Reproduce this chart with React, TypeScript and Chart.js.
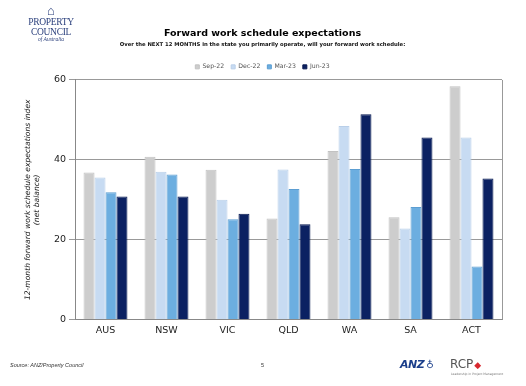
import React, { useEffect, useRef } from "react";
import { Chart, registerables } from "chart.js";
Chart.register(...registerables);

const categories = ["AUS", "NSW", "VIC", "QLD", "WA", "SA", "ACT"];
const seriesNames = ["Sep-22", "Dec-22", "Mar-23", "Jun-23"];
const sep22 = [36.8, 40.8, 37.5, 25.3, 42.2, 25.6, 58.4];
const dec22 = [35.6, 37.0, 30.0, 37.6, 48.5, 22.8, 45.6];
const mar23 = [31.9, 36.3, 25.1, 32.7, 37.7, 28.2, 13.3];
const jun23 = [30.8, 30.8, 26.5, 23.9, 51.4, 45.6, 35.3];
const yTicks = [0, 20, 40, 60];

const fills = ["#cdcdcd", "#c7dbf2", "#6caee0", "#0b2162"];
const borders = ["#c2c2c2", "#b9cfe9", "#5c9ed2", "#061850"];

export default function App() {
  const ref = useRef<HTMLCanvasElement | null>(null);
  useEffect(() => {
    document.body.style.margin = "0";
    const ctx = ref.current!;
    const all = [sep22, dec22, mar23, jun23];
    const chart = new Chart(ctx, {
      type: "bar",
      data: {
        labels: categories,
        datasets: all.map((d, i) => ({
          label: seriesNames[i],
          data: d,
          backgroundColor: fills[i],
          borderColor: borders[i],
          borderWidth: 1,
          categoryPercentage: 0.72,
          barPercentage: 1,
        })),
      },
      options: {
        animation: false,
        responsive: false,
        maintainAspectRatio: false,
        layout: { padding: { left: 23, right: 24, top: 0, bottom: 45 } },
        plugins: {
          title: {
            display: true,
            text: "Forward work schedule expectations",
            color: "#000",
            font: { family: "DejaVu Sans", size: 9.5, weight: "bold" },
            padding: { top: 28, bottom: 1 },
          },
          subtitle: {
            display: true,
            text: "Over the NEXT 12 MONTHS in the state you primarily operate, will your forward work schedule:",
            color: "#111",
            font: { family: "DejaVu Sans", size: 5.3, weight: "bold" },
            padding: { top: 1, bottom: 9 },
          },
          legend: {
            display: true,
            position: "top",
            labels: {
              boxWidth: 4,
              boxHeight: 4,
              padding: 7,
              color: "#555",
              font: { family: "DejaVu Sans", size: 6.2 },
            },
          },
          tooltip: { enabled: false },
        },
        scales: {
          x: {
            grid: { display: false, drawTicks: false },
            border: { display: true, color: "#888", width: 1 },
            ticks: {
              color: "#222",
              font: { family: "DejaVu Sans", size: 9.5 },
              padding: 5,
            },
          },
          y: {
            min: 0,
            max: 60,
            afterBuildTicks: (s: any) => {
              s.ticks = yTicks.map((v) => ({ value: v }));
            },
            afterFit: (s: any) => {
              s.width = 52;
            },
            grid: {
              color: "#999",
              lineWidth: 1,
              drawTicks: true,
              tickLength: 6,
            },
            border: { display: true, color: "#888", width: 1 },
            ticks: {
              color: "#222",
              font: { family: "DejaVu Sans", size: 9.5 },
              padding: 3,
            },
            title: {
              display: true,
              text: ["12-month forward work schedule expectations index", "(net balance)"],
              color: "#222",
              font: { family: "DejaVu Sans", size: 7.6, style: "italic" },
              padding: { top: 0, bottom: 4 },
            },
          },
        },
      },
      plugins: [
        {
          id: "rightBorder",
          afterDraw: (c: any) => {
            const a = c.chartArea;
            const g = c.ctx;
            g.save();
            g.strokeStyle = "#999";
            g.lineWidth = 1;
            g.beginPath();
            g.moveTo(Math.round(a.right) + 0.5, a.top);
            g.lineTo(Math.round(a.right) + 0.5, a.bottom);
            g.stroke();
            g.restore();
          },
        },
      ],
    } as any);
    return () => chart.destroy();
  }, []);

  return (
    <div style={{ position: "relative", width: 526, height: 386, background: "#fff", overflow: "hidden" }}>
      <canvas ref={ref} width={526} height={386} style={{ position: "absolute", left: 0, top: 0 }} />
      <div style={{ position: "absolute", left: 20, top: 4, width: 62, textAlign: "center", color: "#2a3f7c", fontFamily: "Liberation Serif", lineHeight: 1 }}>
        <div style={{ fontSize: 13, lineHeight: "14px" }}>⌂</div>
        <div style={{ fontSize: 9.5, letterSpacing: -0.3 }}>PROPERTY</div>
        <div style={{ fontSize: 9.5, letterSpacing: -0.3 }}>COUNCIL</div>
        <div style={{ fontSize: 5.5, fontStyle: "italic" }}>of Australia</div>
      </div>
      <div style={{ position: "absolute", left: 10, top: 362, fontSize: 5.5, fontStyle: "italic", fontFamily: "Liberation Sans", color: "#333" }}>
        Source: ANZ/Property Council
      </div>
      <div style={{ position: "absolute", left: 261, top: 362, fontSize: 5.5, fontFamily: "Liberation Sans", color: "#333" }}>5</div>
      <div style={{ position: "absolute", left: 400, top: 358, fontSize: 11, fontWeight: "bold", fontStyle: "italic", fontFamily: "DejaVu Sans", color: "#1b3f8b", letterSpacing: -0.5 }}>
        ANZ<span style={{ fontSize: 10, marginLeft: 2 }}>♁</span>
      </div>
      <div style={{ position: "absolute", left: 450, top: 357, fontSize: 12, fontFamily: "DejaVu Sans", color: "#555" }}>
        RCP<span style={{ color: "#d8282f", fontSize: 9, marginLeft: 1 }}>◆</span>
      </div>
      <div style={{ position: "absolute", left: 451, top: 372, fontSize: 3, fontFamily: "DejaVu Sans", color: "#777" }}>
        Leadership in Project Management
      </div>
    </div>
  );
}
